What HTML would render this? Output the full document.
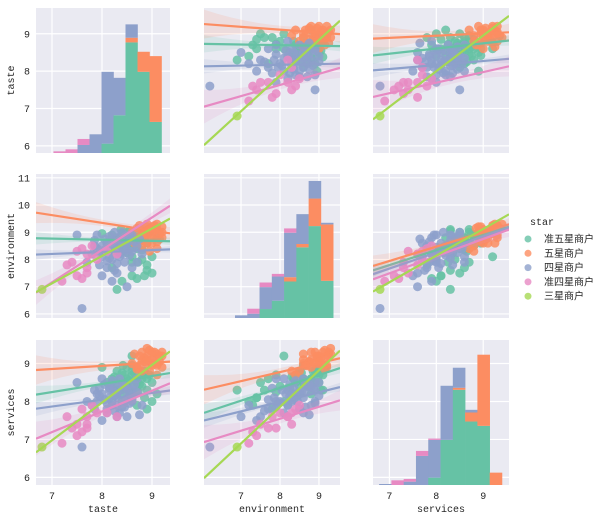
<!DOCTYPE html>
<html><head><meta charset="utf-8">
<style>
body{margin:0;background:#fff;}
svg{display:block;font-family:"Liberation Mono","WenQuanYi Zen Hei",monospace;}
.tick{font-size:10px;fill:#262626;}
.title{font-size:10px;fill:#262626;}
.leg{font-size:10px;fill:#262626;font-family:"Liberation Sans","WenQuanYi Zen Hei",sans-serif;}
</style></head>
<body>
<svg id="chart" width="601" height="519" viewBox="0 0 601 519" xmlns="http://www.w3.org/2000/svg"></svg>
<script>
const groups = ['准五星商户','五星商户','四星商户','准四星商户','三星商户'];
const colors = ['#66c2a5','#fc8d62','#8da0cb','#e78ac3','#a6d854'];
const vars = ['taste','environment','services'];
const xDomains = [[6.68,9.36],[6.05,9.54],[6.65,9.55]];
const yDomains = [[5.81,9.69],[5.85,11.14],[5.8,9.62]];
const xTicks = [[7,8,9],[7,8,9],[7,8,9]];
const yTicks = [[6,7,8,9],[6,7,8,9,10,11],[6,7,8,9]];

// histogram data
const histStart = [7.03, 6.845, 6.78];
const histWidth = [0.24, 0.315, 0.262];
const histTaste = [
  [0,0,0,0,28,113,331,243,93],
  [0,0,0,0,0,0,14,60,197],
  [0,0,24,56,215,112,40,0,0],
  [5,11,18,0,0,0,0,0,0],
  [0,0,0,0,0,0,0,0,0]];
const histEnv = [
  [0,0,27,52,110,213,277,112],
  [0,0,0,0,13,10,83,170],
  [8,13,66,73,134,90,53,5],
  [0,15,14,8,13,0,0,0],
  [0,0,0,0,0,0,0,0]];
const histServices = [
  [0,0,0,0,22,135,285,190,177,0],
  [0,0,0,0,0,0,6,27,213,37],
  [3,0,10,87,113,162,60,8,0,0],
  [0,14,8,15,4,0,0,0,0,0],
  [0,0,0,0,0,0,0,0,0,0]];
const countMax = 434;

// scatter points: [taste, environment, services]
const ptsGreen = [[8.5,8.6,8.6],[8.6,8.9,8.8],[8.7,8.4,8.5],[8.8,8.0,8.4],[8.9,7.6,8.3],[8.6,7.4,8.1],[8.4,7.2,8.0],[8.7,7.3,7.9],[8.9,7.8,7.8],[9.0,8.1,8.0],[8.3,8.7,8.4],[8.2,8.9,8.5],[8.5,9.0,8.9],[8.8,9.1,8.7],[9.1,8.8,8.2],[8.4,8.3,8.2],[8.6,8.1,9.2],[8.3,6.9,8.3],[8.2,7.7,8.6],[8.7,8.8,8.6],[8.5,8.5,8.4],[8.9,8.6,8.6],[8.1,8.6,8.5],[8.6,7.9,8.7],[9.0,7.5,8.5],[8.45,8.7,8.5],[8.0,8.95,8.9],[8.55,9.05,8.3],
  [8.35,8.8,8.6],[8.45,8.4,8.7],[8.55,8.75,8.55],[8.65,8.55,8.75],[8.75,8.65,8.45],[8.85,8.85,8.8],[8.4,8.95,8.75],[8.5,8.25,8.35],[8.6,8.65,8.95],[8.7,9.0,8.5],[8.3,8.5,8.8],[8.8,8.35,8.6],[8.25,8.3,8.65],[8.95,9.0,8.7],[8.62,8.8,8.4],[8.42,8.6,8.95],[8.72,7.9,8.25],[8.85,7.4,8.1],[8.55,8.45,8.15],[8.38,9.1,8.3]];
const ptsOrange = [[8.8,9.0,9.1],[8.9,9.2,9.2],[9.0,8.9,9.3],[9.1,9.1,9.0],[8.7,8.8,8.9],[8.8,8.5,8.8],[9.0,8.6,9.0],[9.1,8.4,8.7],[8.9,9.3,9.4],[8.6,9.0,9.0],[9.2,9.0,9.2],[8.75,8.7,8.95],[9.05,9.25,9.3],[8.95,8.3,8.8],[8.85,8.95,9.15],[9.15,8.75,9.05],[8.7,9.15,8.85],[9.0,8.8,9.1],[8.65,8.6,9.25],[9.2,9.2,8.9],
  [8.8,9.1,9.3],[8.9,8.9,9.0],[9.05,9.05,9.15],[9.1,9.3,9.25],[8.95,9.15,9.35],[9.15,8.95,9.2],[8.85,8.75,9.05],[9.0,9.2,8.95],[8.75,9.25,9.2],[9.2,8.8,9.3],[8.9,8.6,9.1],[9.1,8.65,8.95]];
const ptsPurple = [[8.0,8.5,8.2],[8.2,8.0,8.0],[8.3,8.8,7.9],[8.1,7.7,7.8],[8.4,8.2,8.3],[7.9,8.9,8.0],[7.8,8.2,7.9],[8.5,8.6,8.1],[8.6,8.3,8.0],[7.6,6.2,6.8],[7.5,8.9,8.5],[8.3,7.5,7.6],[8.0,7.4,7.5],[8.2,8.7,8.4],[7.9,8.4,8.2],[8.7,7.9,8.6],[8.4,9.0,8.5],[8.1,8.6,7.7],[8.5,7.0,7.6],[8.3,8.4,8.2],[7.7,7.9,8.0],[8.6,8.9,8.3],[8.2,7.2,7.9],[8.0,8.1,8.6],[8.8,8.2,7.9],[7.85,8.7,8.3],[8.15,8.3,8.1],[8.35,8.1,7.7],[8.45,8.75,8.4],[7.95,7.8,8.35],
  [8.05,8.35,8.05],[8.25,8.55,8.25],[8.35,8.25,8.45],[8.45,8.45,8.0],[8.15,8.85,8.35],[8.55,8.15,8.2],[8.65,8.65,8.45],[8.1,7.95,7.95],[8.3,7.85,8.1],[8.4,8.65,7.85],[8.2,8.4,8.55],[8.5,8.35,8.35],[7.95,8.25,8.15],[8.6,7.7,8.05],[8.25,9.0,8.15],[8.05,8.75,8.45],[8.45,7.9,7.85],[8.35,8.6,8.6],[8.7,8.5,8.25],[8.15,8.05,8.3],[7.85,8.5,7.8],[8.55,8.9,7.95],[8.75,8.75,7.65],[8.25,7.6,7.75]];
const ptsPink = [[7.7,8.2,7.6],[7.6,8.4,7.8],[7.8,8.5,7.9],[7.5,7.4,7.1],[7.2,7.2,6.9],[7.3,7.8,7.6],[7.7,7.5,7.4],[7.6,7.3,7.2],[7.9,8.0,7.7],[7.4,7.9,7.3],[7.7,7.7,7.3],[7.5,8.3,7.4],[8.1,8.3,7.7],[8.3,8.2,7.6]];
const ptsLime = [[6.8,6.9,6.8]];
const points = [ptsGreen, ptsOrange, ptsPurple, ptsPink, ptsLime];

// regression lines: y value at left / right edge of panel, per group
const lineR0C1 = [[8.73,8.67],[9.26,8.99],[8.13,8.20],[7.05,8.09],[6.02,9.35]];
const lineR0C2 = [[8.42,8.82],[8.87,9.04],[8.02,8.33],[7.31,8.13],[6.71,9.48]];
const lineR1C0 = [[8.78,8.67],[9.72,8.96],[8.18,8.37],[6.78,9.97],[6.80,9.50]];
const lineR1C2 = [[7.60,9.20],[7.76,9.29],[7.46,9.17],[7.27,9.10],[6.82,9.66]];
const lineR2C0 = [[8.18,8.75],[8.83,9.05],[7.81,8.29],[7.02,8.48],[6.66,9.32]];
const lineR2C1 = [[7.70,8.88],[8.31,9.14],[7.50,8.38],[6.93,8.03],[5.98,9.34]];
const ciHalf = [0.18,0.3,0.15,0.35,0];

const colX=[36,204,373], colW=[134,136,136];
const rowY=[8,174,340], rowH=[145,144,145];
const NS='http://www.w3.org/2000/svg';
const svg=document.getElementById('chart');
function mk(tag,attrs,parent){const e=document.createElementNS(NS,tag);for(const k in attrs)e.setAttribute(k,attrs[k]);(parent||svg).appendChild(e);return e;}
function sx(c,v){const d=xDomains[c];return colX[c]+(v-d[0])/(d[1]-d[0])*colW[c];}
function sy(r,v){const d=yDomains[r];return rowY[r]+rowH[r]-(v-d[0])/(d[1]-d[0])*rowH[r];}
function sc(r,n){return rowY[r]+rowH[r]-n/countMax*rowH[r];}

let clipId=0;
for(let r=0;r<3;r++)for(let c=0;c<3;c++){
  const g=mk('g',{});
  
  
  const cp=mk('clipPath',{id:'cp'+clipId},g);
  mk('rect',{x:colX[c],y:rowY[r],width:colW[c],height:rowH[r]},cp);
  mk('rect',{x:colX[c],y:rowY[r],width:colW[c],height:rowH[r],fill:'#eaeaf2'},g);
  const inner=mk('g',{'clip-path':'url(#cp'+clipId+')'},g);
  clipId++;
  xTicks[c].forEach(t=>mk('line',{x1:sx(c,t),x2:sx(c,t),y1:rowY[r],y2:rowY[r]+rowH[r],stroke:'#fff','stroke-width':1.2},inner));
  yTicks[r].forEach(t=>mk('line',{x1:colX[c],x2:colX[c]+colW[c],y1:sy(r,t),y2:sy(r,t),stroke:'#fff','stroke-width':1.2},inner));
  if(r===c){
    const h=[histTaste,histEnv,histServices][r];
    const nb=h[0].length;
    for(let b=0;b<nb;b++){
      let cum=0;
      for(let gi=0;gi<5;gi++){
        const v=h[gi][b]; if(!v) continue;
        const x0=sx(c,histStart[c]+b*histWidth[c]), x1=sx(c,histStart[c]+(b+1)*histWidth[c]);
        const rect=mk('rect',{x:x0,y:sc(r,cum+v),width:x1-x0+0.3,height:sc(r,cum)-sc(r,cum+v),fill:colors[gi]},inner);
        
        
        cum+=v;
      }
    }
  } else {
    const key={'01':lineR0C1,'02':lineR0C2,'10':lineR1C0,'12':lineR1C2,'20':lineR2C0,'21':lineR2C1}[''+r+c];
    const xl=xDomains[c][0], xr=xDomains[c][1];
    for(let gi=0;gi<5;gi++){
      points[gi].forEach(p=>{
        const dot=mk('circle',{cx:sx(c,p[c]),cy:sy(r,p[r]),r:4.5,fill:colors[gi],'fill-opacity':0.85},inner);
        
        
      });
    }
    for(let gi=0;gi<5;gi++){
      const [a,b]=key[gi];
      const w=ciHalf[gi];
      if(w>0){
        let up=[],dn=[];
        for(let k=0;k<=10;k++){const t=k/10;const x=xl+(xr-xl)*t;const y=a+(b-a)*t;const hw=w*(0.35+2.6*(t-0.6)*(t-0.6));up.push(sx(c,x)+','+sy(r,y+hw));dn.unshift(sx(c,x)+','+sy(r,y-hw));}
        const band=mk('polygon',{points:up.concat(dn).join(' '),fill:colors[gi],'fill-opacity':0.15},inner);
        
        
      }
      const ln=mk('line',{x1:sx(c,xl),y1:sy(r,a),x2:sx(c,xr),y2:sy(r,b),stroke:colors[gi],'stroke-width':2.2},inner);
      
      
    }
  }
  if(c===0){
    yTicks[r].forEach(t=>{const tx=mk('text',{x:30,y:sy(r,t)+3.5,'text-anchor':'end',class:'tick'});tx.textContent=t;
      });
  }
  if(r===2){
    xTicks[c].forEach(t=>{const tx=mk('text',{x:sx(c,t),y:499,'text-anchor':'middle',class:'tick'});tx.textContent=t;
      });
  }
}
for(let i=0;i<3;i++){
  const yt=mk('text',{x:0,y:0,'text-anchor':'middle',class:'title',transform:'translate(14,'+(rowY[i]+rowH[i]/2)+') rotate(-90)'});
  yt.textContent=vars[i];
  
  
  const xt=mk('text',{x:colX[i]+colW[i]/2,y:512,'text-anchor':'middle',class:'title'});
  xt.textContent=vars[i];
  
  
}
const lg=mk('g',{});


const lt=mk('text',{x:530,y:225,class:'title','font-size':'8'},lg);
lt.textContent='star';


groups.forEach((gname,i)=>{
  const y=239+i*14.3;
  const ge=mk('g',{},lg);
  
  
  mk('circle',{cx:528,cy:y,r:3.5,fill:colors[i],'fill-opacity':0.8},ge);
  const t=mk('text',{x:544,y:y+3.5,class:'leg'},ge);
  t.textContent=gname;
});
</script>
</body></html>
